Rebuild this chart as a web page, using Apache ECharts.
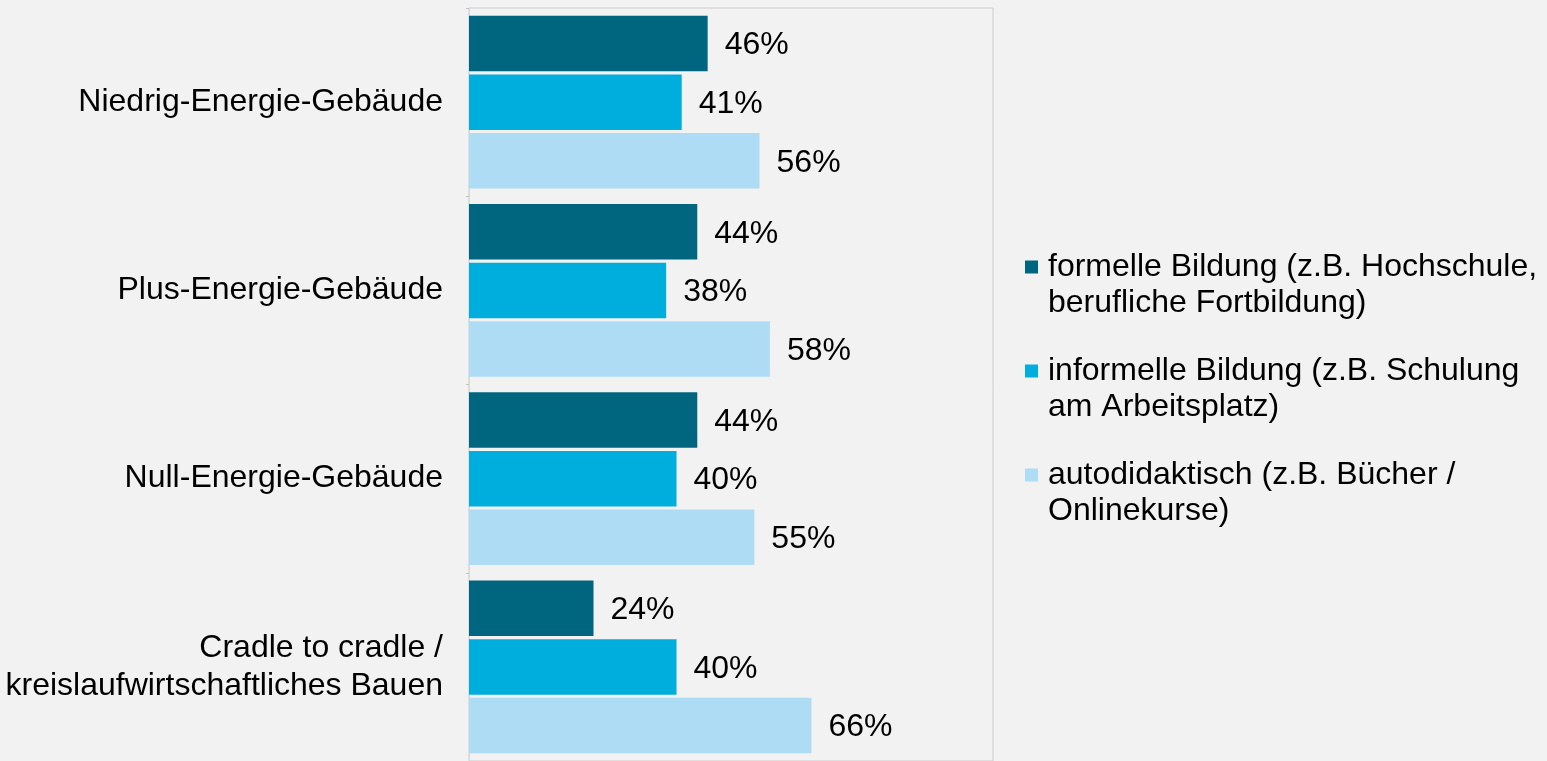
<!DOCTYPE html>
<html>
<head>
<meta charset="utf-8">
<script src="https://cdn.jsdelivr.net/npm/echarts@6/dist/echarts.min.js"></script>
<style>
html,body{margin:0;padding:0;background:#f2f2f2;}
#c{width:1547px;height:761px;}
</style>
</head>
<body>
<div id="c"></div>
<script>
const categories = ['Niedrig-Energie-Gebäude', 'Plus-Energie-Gebäude', 'Null-Energie-Gebäude', 'Cradle to cradle /\nkreislaufwirtschaftliches Bauen'];
const formell = [46, 44, 44, 24];
const informell = [41, 38, 40, 40];
const autodidaktisch = [56, 58, 55, 66];
const seriesNames = [
  'formelle Bildung (z.B. Hochschule,\nberufliche Fortbildung)',
  'informelle Bildung (z.B. Schulung\nam Arbeitsplatz)',
  'autodidaktisch (z.B. Bücher /\nOnlinekurse)'
];
const colors = ['#006680', '#00aede', '#aedcf4'];

const FONT = '"Liberation Sans", Arial, Helvetica, sans-serif';
const chart = echarts.init(document.getElementById('c'));
const values = [formell, informell, autodidaktisch];

const rich = {
  t: { fontSize: 32, color: '#000', lineHeight: 36, fontFamily: FONT },
  g: { width: 10, height: 13 },
  ind: { width: 23, height: 13 }
};
colors.forEach((c, i) => { rich['s' + i] = { width: 13, height: 13, backgroundColor: c }; });

chart.setOption({
  backgroundColor: '#f2f2f2',
  animation: false,
  grid: {
    left: 469, top: 8, width: 524, height: 757,
    show: true, borderColor: '#cccccc', borderWidth: 1, backgroundColor: 'transparent'
  },
  legend: {
    orient: 'vertical',
    left: 1015,
    top: 244,
    itemWidth: 0,
    itemHeight: 0,
    itemGap: 32,
    selectedMode: false,
    data: seriesNames,
    formatter: function (name) {
      const i = seriesNames.indexOf(name);
      const lines = name.split('\n');
      return '{s' + i + '|}{g|}{t|' + lines[0] + '}\n{ind|}{t|' + lines[1] + '}';
    },
    textStyle: { rich: rich, fontSize: 32, lineHeight: 36, fontFamily: FONT, color: '#000' }
  },
  xAxis: {
    type: 'value', min: 0, max: 101, show: false,
    splitLine: { show: false }
  },
  yAxis: {
    type: 'category',
    inverse: true,
    data: categories,
    axisLine: { show: true, lineStyle: { color: '#d9d9d9', width: 1 } },
    axisTick: { show: true, length: 3, lineStyle: { color: '#bfbfbf' } },
    axisLabel: {
      fontSize: 32, lineHeight: 38, color: '#000', fontFamily: FONT, margin: 26
    }
  },
  series: values.map((v, i) => ({
    type: 'bar',
    name: seriesNames[i],
    data: v,
    barWidth: 55.5,
    barGap: '5.5%',
    itemStyle: { color: colors[i] },
    label: {
      show: true, position: 'right', distance: 17, offset: [0, 2],
      formatter: '{c}%', fontSize: 32, color: '#000', fontFamily: FONT
    }
  }))
});
</script>
</body>
</html>
